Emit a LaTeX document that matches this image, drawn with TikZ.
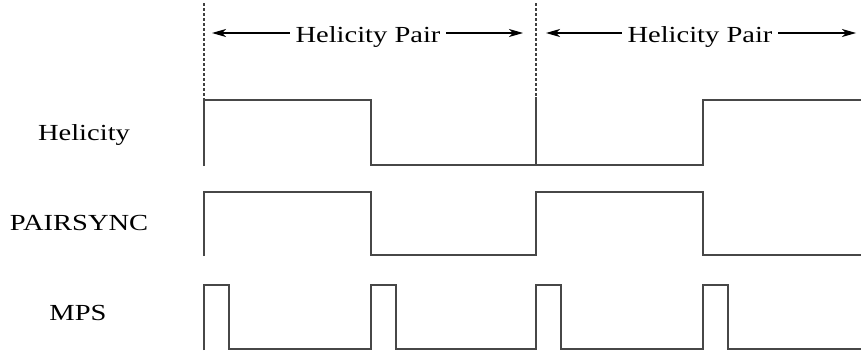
\documentclass[tikz,border=0pt]{standalone}
\usepackage{fontspec}
\setmainfont[FakeStretch=1.24]{Liberation Serif}
\usetikzlibrary{positioning,arrows.meta,calc}

\begin{document}
\begin{tikzpicture}[x=1pt,y=-1pt,
  every node/.style={font=\fontsize{23}{26}\selectfont,inner sep=0pt},
  label/.style={anchor=base},
  pairlabel/.style={anchor=base,outer xsep=6pt},
  sig/.style={line width=1.4pt,black!72},
  bound/.style={densely dashed,line width=1.1pt,black!75},
  span/.style={-{Stealth[length=14pt,width=8pt,inset=4pt]},line width=1.1pt}
]
  \useasboundingbox (0,0) rectangle (861,356);
  % signal names
  \node[label] (hel)  at (84,140) {Helicity};
  \node[label] (psync) at (79,230) {PAIRSYNC};
  \node[label] (mps)  at (78,320) {MPS};
  % helicity pair boundaries
  \draw[bound] (204,3) -- (204,100);
  \draw[bound] (536,3) -- (536,97);
  \node[pairlabel] (hpA) at (368,42) {Helicity Pair};
  \node[pairlabel] (hpB) at (700,42) {Helicity Pair};
  \coordinate (hpAl) at (212,33);
  \coordinate (hpAr) at (523,33);
  \coordinate (hpBl) at (546,33);
  \coordinate (hpBr) at (856,33);
  \draw[span] (hpA.west |- hpAl) -- (hpAl);
  \draw[span] (hpA.east |- hpAr) -- (hpAr);
  \draw[span] (hpB.west |- hpBl) -- (hpBl);
  \draw[span] (hpB.east |- hpBr) -- (hpBr);
  % Helicity
  \draw[sig] (204,166) -- (204,100) -- (371,100) -- (371,165) -- (703,165)
    -- (703,100) -- (861,100);
  \draw[sig] (536,97) -- (536,165);
  % PAIRSYNC
  \draw[sig] (204,256) -- (204,192) -- (371,192) -- (371,255) -- (536,255)
    -- (536,192) -- (703,192) -- (703,255) -- (861,255);
  % MPS
  \draw[sig] (204,350) \foreach \x in {204,371,536,703} {
    -- (\x,349) -- (\x,285) -- (\x+25,285) -- (\x+25,349)} -- (861,349);
\end{tikzpicture}
\end{document}
